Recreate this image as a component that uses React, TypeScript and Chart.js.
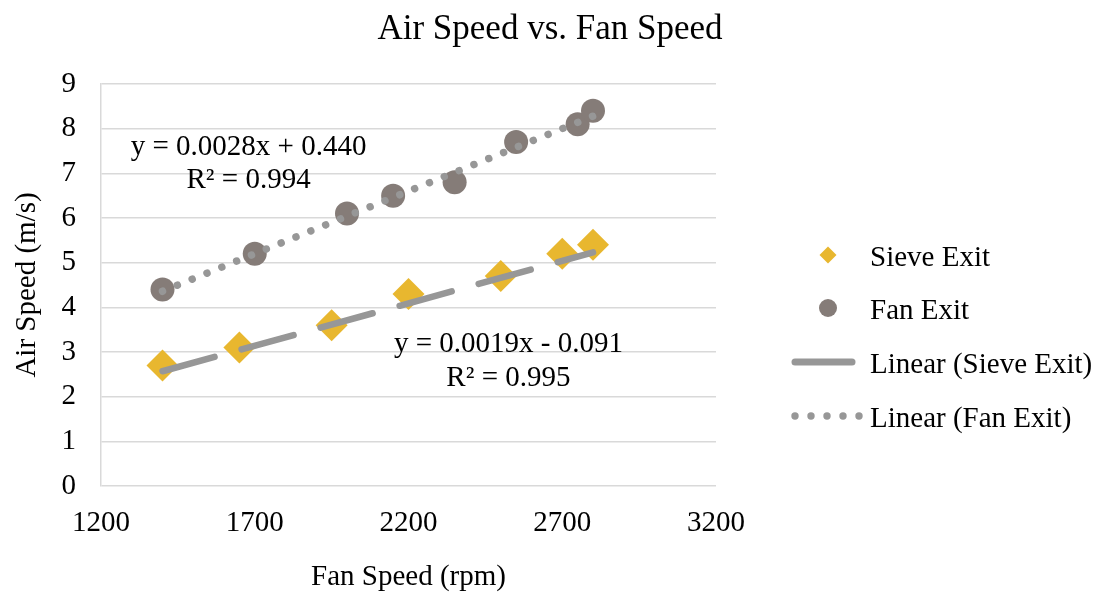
import React, { useEffect, useRef } from "react";
import { Chart, registerables } from "chart.js";

Chart.register(...registerables);

// ---- data ----
const sieveFanSpeed = [1400, 1650, 1950, 2200, 2500, 2700, 2800];
const sieveAirSpeed = [2.7, 3.1, 3.6, 4.3, 4.7, 5.2, 5.4];
const fanFanSpeed = [1400, 1700, 2000, 2150, 2350, 2550, 2750, 2800];
const fanAirSpeed = [4.4, 5.2, 6.1, 6.5, 6.8, 7.7, 8.1, 8.4];
const sieveTrendCoef = [0.0019, -0.091]; // slope, intercept
const fanTrendCoef = [0.0028, 0.44];
const sieveEquationText = ["y = 0.0019x - 0.091", "R² = 0.995"];
const fanEquationText = ["y = 0.0028x + 0.440", "R² = 0.994"];
const xTickValues = [1200, 1700, 2200, 2700, 3200];
const yTickValues = [0, 1, 2, 3, 4, 5, 6, 7, 8, 9];
const seriesNames = ["Sieve Exit", "Fan Exit", "Linear (Sieve Exit)", "Linear (Fan Exit)"];

// label anchors (data coordinates) for the trendline equations
const fanEquationAnchor = [1680, 7.58, 6.84];
const sieveEquationAnchor = [2525, 3.17, 2.42];

const FONT = "'Liberation Serif', 'Times New Roman', serif";
const GOLD = "#E8B72F";
const BROWN = "#857C78";
const TREND = "#979797";
const GRID = "#D9D9D9";

function trendPoints(xs: number[], coef: number[]) {
  const lo = Math.min(...xs);
  const hi = Math.max(...xs);
  return [lo, hi].map((x) => ({ x, y: coef[0] * x + coef[1] }));
}

const annotationPlugin = {
  id: "eqLabels",
  afterDraw(chart: any) {
    const { ctx, scales } = chart;
    const xs = scales.x;
    const ys = scales.y;
    ctx.save();
    ctx.font = `29px ${FONT}`;
    ctx.fillStyle = "#000";
    ctx.textAlign = "center";
    ctx.textBaseline = "middle";
    const drawEq = (anchor: number[], lines: string[]) => {
      const px = xs.getPixelForValue(anchor[0]);
      ctx.fillText(lines[0], px, ys.getPixelForValue(anchor[1]));
      ctx.fillText(lines[1], px, ys.getPixelForValue(anchor[2]));
    };
    drawEq(fanEquationAnchor, fanEquationText);
    drawEq(sieveEquationAnchor, sieveEquationText);
    ctx.restore();
  },
};

const legendPlugin = {
  id: "customLegend",
  afterDraw(chart: any) {
    const { ctx, chartArea } = chart;
    const symX = chartArea.right + 112;
    const textX = chartArea.right + 154;
    const rowY = [258, 311, 365, 419];
    ctx.save();
    // diamond
    ctx.fillStyle = GOLD;
    ctx.beginPath();
    const dy = rowY[0] - 3;
    ctx.moveTo(symX, dy - 8.5);
    ctx.lineTo(symX + 8.5, dy);
    ctx.lineTo(symX, dy + 8.5);
    ctx.lineTo(symX - 8.5, dy);
    ctx.closePath();
    ctx.fill();
    // circle
    ctx.fillStyle = BROWN;
    ctx.beginPath();
    ctx.arc(symX, rowY[1] - 3, 9, 0, Math.PI * 2);
    ctx.fill();
    // long-dash line sample
    ctx.strokeStyle = TREND;
    ctx.lineCap = "round";
    ctx.lineWidth = 7;
    ctx.beginPath();
    ctx.moveTo(symX - 33, rowY[2] - 3);
    ctx.lineTo(symX + 24, rowY[2] - 3);
    ctx.stroke();
    // dotted sample
    ctx.fillStyle = TREND;
    for (let i = 0; i < 5; i++) {
      ctx.beginPath();
      ctx.arc(symX - 33 + i * 16, rowY[3] - 3, 3.7, 0, Math.PI * 2);
      ctx.fill();
    }
    ctx.fillStyle = "#000";
    ctx.font = `29px ${FONT}`;
    ctx.textAlign = "left";
    ctx.textBaseline = "middle";
    seriesNames.forEach((n, i) => ctx.fillText(n, textX, rowY[i]));
    ctx.restore();
  },
};

export default function App() {
  const ref = useRef<HTMLCanvasElement | null>(null);
  useEffect(() => {
    document.body.style.margin = "0";
    if (!ref.current) return;
    Chart.defaults.font.family = FONT;
    const chart = new Chart(ref.current, {
      type: "scatter",
      data: {
        datasets: [
          {
            label: seriesNames[0],
            data: sieveFanSpeed.map((x, i) => ({ x, y: sieveAirSpeed[i] })),
            pointStyle: "rectRot",
            pointRadius: 16,
            backgroundColor: GOLD,
            borderWidth: 0,
            order: 1,
          },
          {
            label: seriesNames[1],
            data: fanFanSpeed.map((x, i) => ({ x, y: fanAirSpeed[i] })),
            pointStyle: "circle",
            pointRadius: 12,
            backgroundColor: BROWN,
            borderWidth: 0,
            order: 1,
          },
          {
            label: seriesNames[2],
            data: trendPoints(sieveFanSpeed, sieveTrendCoef),
            showLine: true,
            pointRadius: 0,
            borderColor: TREND,
            borderWidth: 6.5,
            borderDash: [54, 28],
            borderCapStyle: "round",
            order: 0,
          } as any,
          {
            label: seriesNames[3],
            data: trendPoints(fanFanSpeed, fanTrendCoef),
            showLine: true,
            pointRadius: 0,
            borderColor: TREND,
            borderWidth: 7.5,
            borderDash: [0.01, 16],
            borderCapStyle: "round",
            order: 0,
          } as any,
        ],
      },
      options: {
        responsive: false,
        animation: false,
        devicePixelRatio: 1,
        layout: { padding: 0 },
        plugins: {
          legend: { display: false },
          tooltip: { enabled: false },
          title: {
            display: true,
            text: "Air Speed vs. Fan Speed",
            color: "#000",
            font: { family: FONT, size: 35, weight: "normal" },
            padding: { top: 9, bottom: 33 },
          },
        },
        scales: {
          x: {
            type: "linear",
            min: 1200,
            max: 3200,
            afterBuildTicks: (s: any) => {
              s.ticks = xTickValues.map((v) => ({ value: v }));
            },
            afterFit: (s: any) => {
              s.height = 112;
            },
            grid: { display: false, drawTicks: false },
            border: { display: false },
            ticks: {
              color: "#000",
              font: { family: FONT, size: 29 },
              padding: 20,
              maxRotation: 0,
              callback: (v: any) => String(v),
            },
            title: {
              display: true,
              text: "Fan Speed (rpm)",
              color: "#000",
              font: { family: FONT, size: 29 },
              padding: { top: 0, bottom: 3 },
            },
          },
          y: {
            type: "linear",
            min: 0,
            max: 9,
            afterBuildTicks: (s: any) => {
              s.ticks = yTickValues.map((v) => ({ value: v }));
            },
            afterFit: (s: any) => {
              s.width = 101;
            },
            grid: { color: GRID, lineWidth: 1.5, drawTicks: false },
            border: { display: true, color: GRID, width: 1.5 },
            ticks: {
              color: "#000",
              font: { family: FONT, size: 29 },
              padding: 25,
              callback: (v: any) => String(v),
            },
            title: {
              display: true,
              text: "Air Speed (m/s)",
              color: "#000",
              font: { family: FONT, size: 29 },
              padding: { top: 9.5, bottom: 0 },
            },
          },
          legendSpace: {
            type: "linear",
            position: "right",
            display: true,
            min: 0,
            max: 1,
            afterFit: (s: any) => {
              s.width = 384;
            },
            grid: { display: false, drawTicks: false },
            border: { display: false },
            ticks: { display: false },
          },
        },
      },
      plugins: [annotationPlugin, legendPlugin],
    });
    return () => chart.destroy();
  }, []);
  return (
    <div style={{ width: 1100, height: 598, background: "#fff" }}>
      <canvas ref={ref} width={1100} height={598} style={{ display: "block" }} />
    </div>
  );
}
